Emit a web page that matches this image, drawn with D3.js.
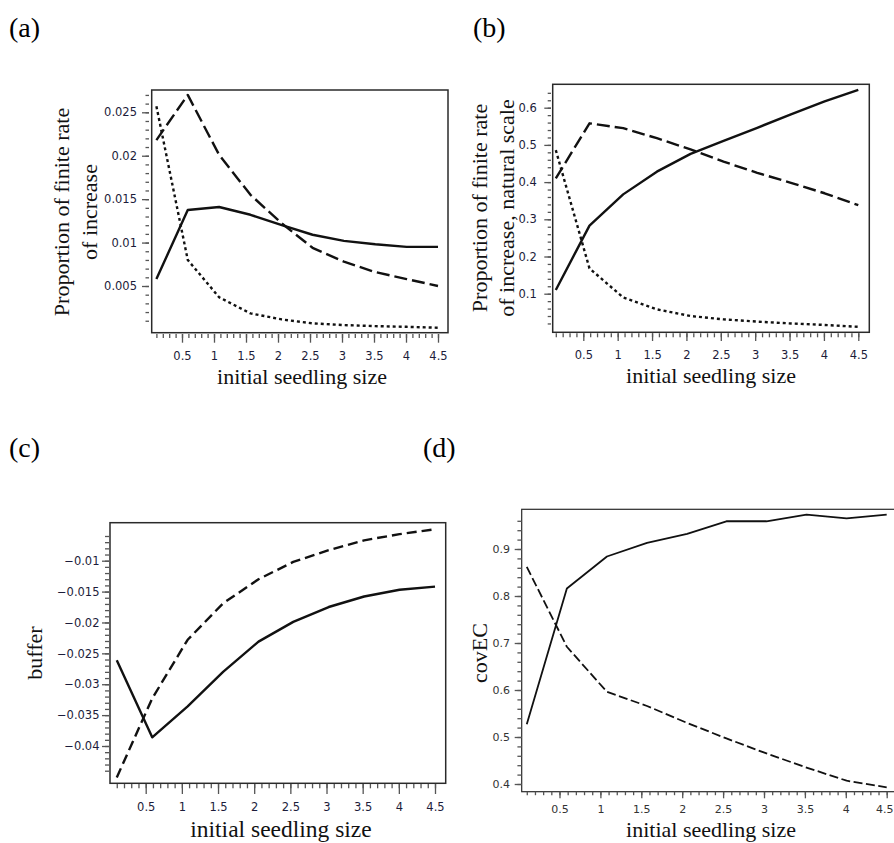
<!DOCTYPE html>
<html><head><meta charset="utf-8">
<script src="https://cdn.jsdelivr.net/npm/d3@7"></script>
<style>body{margin:0;background:#fff}svg{display:block}</style>
</head><body>
<svg id="chart" width="894" height="843"></svg>
<script>
// ---------- data ----------
const seedlingSizes = [0.1, 0.59, 1.08, 1.57, 2.06, 2.54, 3.03, 3.52, 4.01, 4.5];
const xTickLabels = [0.5, 1, 1.5, 2, 2.5, 3, 3.5, 4, 4.5];

const aSolid  = [0.0058, 0.01375, 0.0141, 0.0132, 0.0120, 0.0109, 0.0102, 0.0098, 0.0095, 0.0095];
const aDashed = [0.0218, 0.0270, 0.0201, 0.0155, 0.0122, 0.0094, 0.0078, 0.0066, 0.0058, 0.0050];
const aDotted = [0.0257, 0.0080, 0.0037, 0.00185, 0.00115, 0.0007, 0.0005, 0.00038, 0.0003, 0.0002];
const aYTicks = [0.005, 0.01, 0.015, 0.02, 0.025];

const bSolid  = [0.110, 0.283, 0.367, 0.428, 0.476, 0.511, 0.546, 0.582, 0.617, 0.648];
const bDashed = [0.410, 0.558, 0.545, 0.518, 0.488, 0.455, 0.425, 0.398, 0.370, 0.338];
const bDotted = [0.486, 0.168, 0.090, 0.058, 0.040, 0.031, 0.025, 0.020, 0.016, 0.011];
const bYTicks = [0.1, 0.2, 0.3, 0.4, 0.5, 0.6];

const cSolid  = [-0.0261, -0.0386, -0.0336, -0.0280, -0.0231, -0.0199, -0.0175, -0.0158, -0.0147, -0.0142];
const cDashed = [-0.0451, -0.0323, -0.0228, -0.0169, -0.0130, -0.0102, -0.0083, -0.0067, -0.0057, -0.0049];
const cYTicks = [-0.04, -0.035, -0.03, -0.025, -0.02, -0.015, -0.01];

const dSolid  = [0.527, 0.816, 0.884, 0.913, 0.932, 0.959, 0.959, 0.973, 0.965, 0.973];
const dDashed = [0.862, 0.692, 0.596, 0.566, 0.530, 0.497, 0.465, 0.435, 0.407, 0.393];
const dYTicks = [0.4, 0.5, 0.6, 0.7, 0.8, 0.9];

const panelLetters = ["(a)", "(b)", "(c)", "(d)"];
const xTitle = "initial seedling size";

// ---------- layout ----------
const svg = d3.select("#chart");
const W = 894;
const fmt = v => String(+v.toFixed(4)).replace("-", "\u2212");

const panels = [
  { letter: panelLetters[0], lx: 9, ly: 37,
    xA: [0.5, 4.5], xR: [182, 438], yA: [0.005, 0.025], yR: [286, 112.3],
    box: {l: 151.7, t: 90, r: 448, b: 332.7},
    yAxisX: 149, xAxisY: 334, yMaj: 7, yMin: 3.5, yPad: 5, xMaj: 8.7, xMin: 4, xPad: 9,
    yTicks: aYTicks, yMinor: d3.range(1, 28).map(i => i * 0.001),
    yTitle: ["Proportion of finite rate", "of increase"], yTitleX: [69, 96.5], yTitleY: 212, yTitleSize: 22,
    xTitleX: 302, xTitleY: 384, titleSize: 22,
    series: [
      {v: aSolid, dash: null}, {v: aDashed, dash: "13,5"}, {v: aDotted, dash: "3,3"}],
    lw: 2.4, tickFont: 11.5, tickColor: "#1c1c3a", frame: 1.5 },
  { letter: panelLetters[1], lx: 473, ly: 37,
    xA: [0.5, 4.5], xR: [583.3, 858.3], yA: [0.1, 0.6], yR: [293.7, 107.7],
    box: {l: 552.7, t: 84.3, r: 869.3, b: 332.3},
    yAxisX: 551, xAxisY: 333.3, yMaj: 6.7, yMin: 3.3, yPad: 7.6, xMaj: 7.7, xMin: 4, xPad: 10,
    yTicks: bYTicks, yMinor: d3.range(1, 33).map(i => i * 0.02),
    yTitle: ["Proportion of finite rate", "of increase, natural scale"], yTitleX: [486.5, 513.5], yTitleY: 208, yTitleSize: 22,
    xTitleX: 711, xTitleY: 382.5, titleSize: 22,
    series: [
      {v: bSolid, dash: null}, {v: bDashed, dash: "13,5"}, {v: bDotted, dash: "3,3"}],
    lw: 2.4, tickFont: 11.5, tickColor: "#1c1c3a", frame: 1.5 },
  { letter: panelLetters[2], lx: 9, ly: 457,
    xA: [0.5, 4.5], xR: [145.7, 435], yA: [-0.04, -0.01], yR: [746, 560.7],
    box: {l: 110, t: 522.7, r: 445.7, b: 783.3},
    yAxisX: 109, xAxisY: 784, yMaj: 7, yMin: 4, yPad: 2.5, xMaj: 10, xMin: 4.3, xPad: 9,
    yTicks: cYTicks, yMinor: d3.range(6, 45).map(i => -i * 0.001),
    yTitle: ["buffer"], yTitleX: [41.5], yTitleY: 653, yTitleSize: 22,
    xTitleX: 281, xTitleY: 837, titleSize: 23.5,
    series: [
      {v: cSolid, dash: null}, {v: cDashed, dash: "10,5"}],
    lw: 2.4, tickFont: 11.5, tickColor: "#1c1c3a", frame: 1.5 },
  { letter: panelLetters[3], lx: 423, ly: 457,
    xA: [0.5, 4.5], xR: [559.5, 886.7], yA: [0.4, 0.9], yR: [784, 549],
    box: {l: 521.7, t: 509.3, r: 910, b: 791.7},
    yAxisX: 521.7, xAxisY: 791.7, yMaj: 7, yMin: 4.3, yPad: 4.7, xMaj: 6.6, xMin: 3.5, xPad: 7,
    yTicks: dYTicks, yMinor: d3.range(20, 49).map(i => i * 0.02),
    yTitle: ["covEC"], yTitleX: [487], yTitleY: 653, yTitleSize: 22,
    xTitleX: 711, xTitleY: 836.5, titleSize: 22,
    series: [
      {v: dSolid, dash: null}, {v: dDashed, dash: "9,3.5"}],
    lw: 1.8, tickFont: 11, tickColor: "#333", frame: 1.2 }
];

const serif = "'Liberation Serif','Times New Roman',serif";
const sans = "'DejaVu Sans',Verdana,sans-serif";

panels.forEach(p => {
  const x = d3.scaleLinear().domain(p.xA).range(p.xR);
  const y = d3.scaleLinear().domain(p.yA).range(p.yR);
  const g = svg.append("g");

  svg.append("text").attr("x", p.lx).attr("y", p.ly)
    .style("font-family", serif).style("font-size", "28px").attr("fill", "#000")
    .text(p.letter);

  g.append("rect").attr("x", p.box.l).attr("y", p.box.t)
    .attr("width", p.box.r - p.box.l).attr("height", p.box.b - p.box.t)
    .attr("fill", "none").attr("stroke", "#2a2a2a").attr("stroke-width", p.frame);

  const xMinor = d3.range(1, 46).map(i => i * 0.1);

  const gxm = g.append("g").attr("transform", `translate(0,${p.xAxisY})`)
    .call(d3.axisBottom(x).tickValues(xMinor).tickSize(p.xMin).tickFormat(""));
  const gx = g.append("g").attr("transform", `translate(0,${p.xAxisY})`)
    .call(d3.axisBottom(x).tickValues(xTickLabels).tickSize(p.xMaj).tickPadding(p.xPad).tickFormat(d => String(d)));
  const gym = g.append("g").attr("transform", `translate(${p.yAxisX},0)`)
    .call(d3.axisLeft(y).tickValues(p.yMinor).tickSize(p.yMin).tickFormat(""));
  const gy = g.append("g").attr("transform", `translate(${p.yAxisX},0)`)
    .call(d3.axisLeft(y).tickValues(p.yTicks).tickSize(p.yMaj).tickPadding(p.yPad).tickFormat(fmt));

  [gxm, gx, gym, gy].forEach(a => {
    a.select(".domain").remove();
    a.selectAll("line").attr("stroke", "#555").attr("stroke-width", 1.3);
    a.selectAll("text").style("font-family", sans).style("font-size", p.tickFont + "px")
      .attr("fill", p.tickColor);
  });

  // keep x tick labels inside the page edge
  gx.selectAll(".tick text").each(function(d) {
    const bb = this.getBBox();
    const cx = x(d);
    const over = cx + bb.width / 2 - (W - 1);
    if (over > 0) d3.select(this).attr("x", -over);
  });

  const line = d3.line().x((d, i) => x(seedlingSizes[i])).y(d => y(d));
  p.series.forEach(s => {
    g.append("path").datum(s.v).attr("d", line)
      .attr("fill", "none").attr("stroke", "#111").attr("stroke-width", p.lw)
      .attr("stroke-linejoin", "round")
      .attr("stroke-dasharray", s.dash);
  });

  p.yTitle.forEach((t, i) => {
    svg.append("text")
      .attr("transform", `translate(${p.yTitleX[i]},${p.yTitleY}) rotate(-90)`)
      .attr("text-anchor", "middle")
      .style("font-family", serif).style("font-size", p.yTitleSize + "px")
      .attr("fill", "#111").text(t);
  });
  svg.append("text").attr("x", p.xTitleX).attr("y", p.xTitleY).attr("text-anchor", "middle")
    .style("font-family", serif).style("font-size", p.titleSize + "px").attr("fill", "#111")
    .text(xTitle);
});
</script>
</body></html>
